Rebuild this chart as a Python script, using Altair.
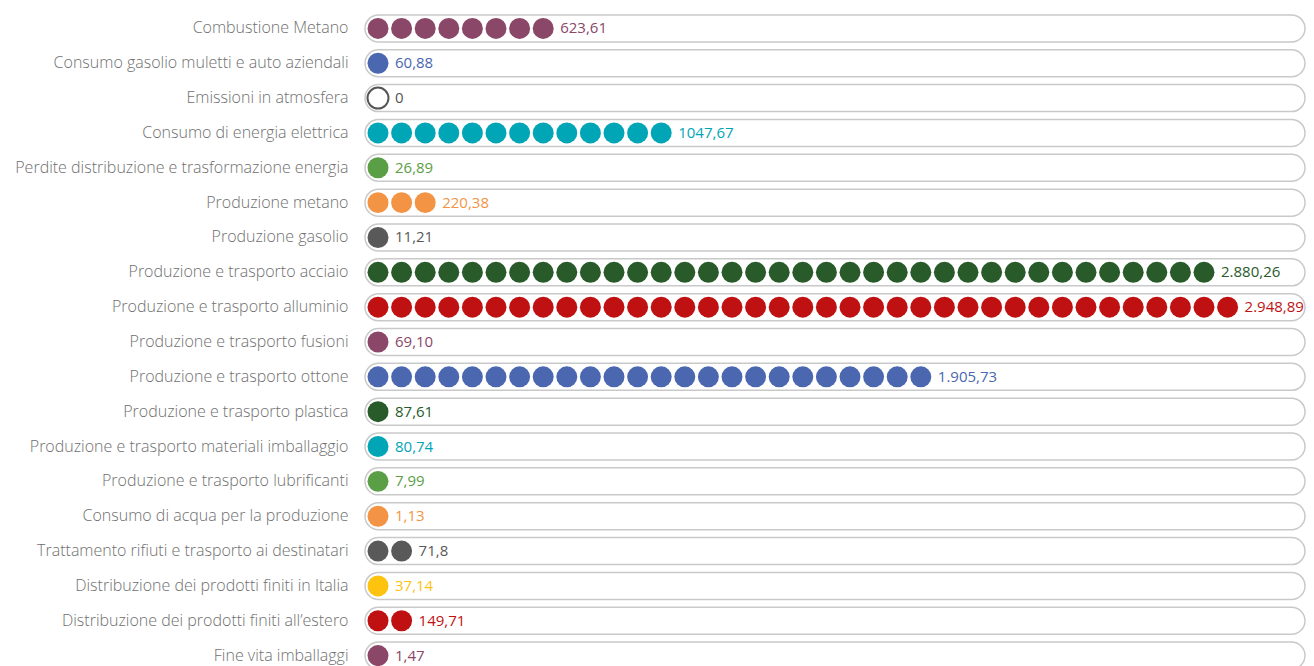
import altair as alt
import pandas as pd

categories = [
    "Combustione Metano",
    "Consumo gasolio muletti e auto aziendali",
    "Emissioni in atmosfera",
    "Consumo di energia elettrica",
    "Perdite distribuzione e trasformazione energia",
    "Produzione metano",
    "Produzione gasolio",
    "Produzione e trasporto acciaio",
    "Produzione e trasporto alluminio",
    "Produzione e trasporto fusioni",
    "Produzione e trasporto ottone",
    "Produzione e trasporto plastica",
    "Produzione e trasporto materiali imballaggio",
    "Produzione e trasporto lubrificanti",
    "Consumo di acqua per la produzione",
    "Trattamento rifiuti e trasporto ai destinatari",
    "Distribuzione dei prodotti finiti in Italia",
    "Distribuzione dei prodotti finiti all\u2019estero",
    "Fine vita imballaggi",
]
value_labels = ["623,61", "60,88", "0", "1047,67", "26,89", "220,38", "11,21",
                "2.880,26", "2.948,89", "69,10", "1.905,73", "87,61", "80,74",
                "7,99", "1,13", "71,8", "37,14", "149,71", "1,47"]
dot_counts = [8, 1, 1, 13, 1, 3, 1, 36, 37, 1, 24, 1, 1, 1, 1, 2, 1, 2, 1]
colors = ["#8a4768", "#4a67b0", "#555555", "#00a5b6", "#5a9e45", "#f39444",
          "#595959", "#285a2a", "#c01112", "#8a4768", "#4a67b0", "#285a2a",
          "#00a5b6", "#5a9e45", "#f39444", "#595959", "#fdc30f", "#c01112",
          "#8a4768"]
hollow = [False, False, True] + [False] * 16

dots = []
for c, n, col, h in zip(categories, dot_counts, colors, hollow):
    for i in range(n):
        dots.append({"cat": c, "i": i, "fill": "#ffffff" if h else col,
                     "stroke": col, "sw": 2 if h else 0})
dots_df = pd.DataFrame(dots)
lab_df = pd.DataFrame({"cat": categories, "last": [n - 1 for n in dot_counts],
                       "label": value_labels, "color": colors})

W = 941
H = 662
FONT = "Open Sans"

yenc = alt.Y("cat:N", sort=categories,
             scale=alt.Scale(range=[0, H], paddingInner=0, paddingOuter=0),
             axis=alt.Axis(title=None, domain=False, ticks=False, labelPadding=17,
                           labelFont=FONT, labelFontSize=16, labelColor="#6f6f6f",
                           labelFontWeight=300, labelLimit=400))
# 23.6 px per dot, first dot centre 13 px from the pill's left edge
xscale = alt.Scale(domain=[-13 / 23.6, (W - 13) / 23.6], nice=False, zero=False)

pills = alt.Chart(lab_df).mark_bar(
    height=27, cornerRadius=13.5, fill="white", stroke="#c9c9c9", strokeWidth=1.5
).encode(y=yenc, x=alt.value(0), x2=alt.value(W - 1))

pts = alt.Chart(dots_df).mark_point(filled=True, shape="circle", size=440, opacity=1).encode(
    y=yenc,
    x=alt.X("i:Q", scale=xscale, axis=None),
    fill=alt.Fill("fill:N", scale=None),
    stroke=alt.Stroke("stroke:N", scale=None),
    strokeWidth=alt.StrokeWidth("sw:Q", scale=None),
)

txt = alt.Chart(lab_df).mark_text(align="left", baseline="middle", dx=17,
                                  font=FONT, fontSize=15).encode(
    y=yenc,
    x=alt.X("last:Q", scale=xscale, axis=None),
    text="label:N",
    color=alt.Color("color:N", scale=None),
)

chart = alt.layer(pills, pts, txt).properties(
    width=W, height=655,
    autosize=alt.AutoSizeParams(type="none"),
    padding={"left": 357, "top": 3, "right": 0, "bottom": 0},
).configure(background="white").configure_view(stroke=None, strokeWidth=0)

chart.save("out.html", embed_options={"renderer": "svg", "actions": False})
